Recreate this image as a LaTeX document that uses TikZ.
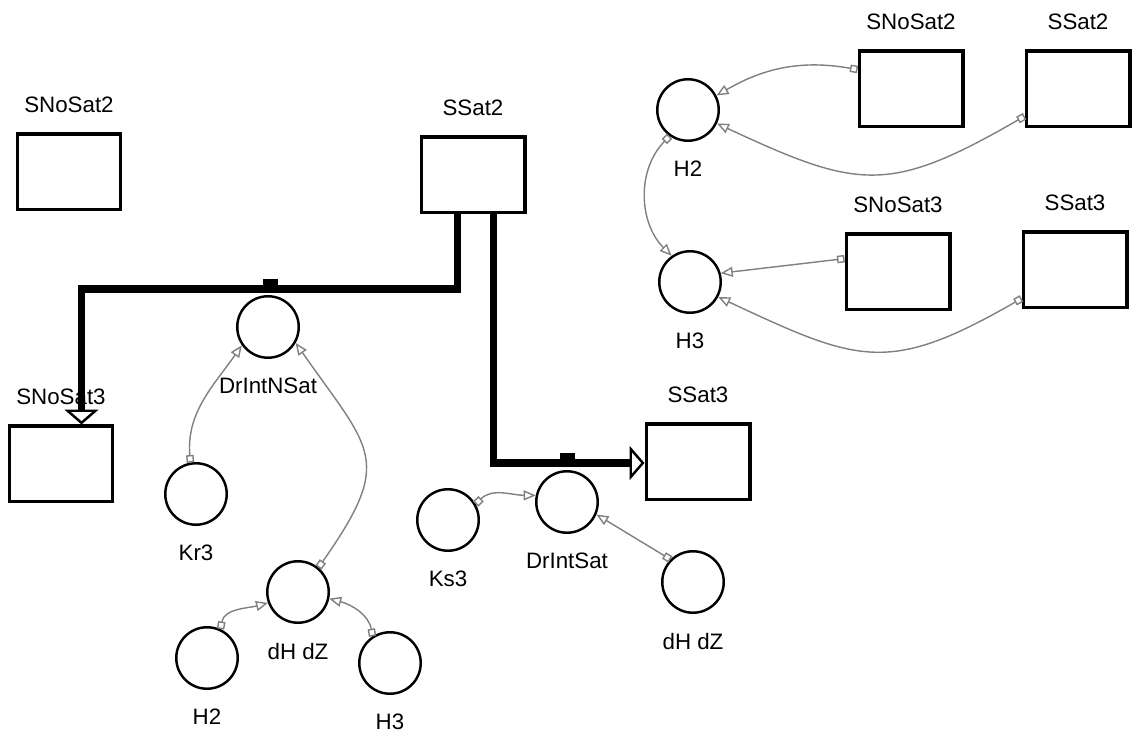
\documentclass[tikz,border=0pt]{standalone}
\usepackage{fontspec}
\setmainfont{Liberation Sans}
\usetikzlibrary{arrows.meta}

\begin{document}
\begin{tikzpicture}[
    x=0.02cm, y=0.02cm,
    label distance=0.38cm,
    every label/.style={font=\fontsize{12.7}{14}\selectfont, inner sep=0pt},
    stock/.style={rectangle, draw, line width=2pt, minimum width=2.07cm, minimum height=1.51cm},
    aux/.style={circle, draw, line width=1.4pt, minimum size=1.23cm, inner sep=0pt},
    valve/.style={rectangle, fill=black, minimum width=0.3cm, minimum height=0.2cm, inner sep=0pt, anchor=south},
    flow/.style={line width=4.5pt, arrows={-Triangle[open, length=0.3cm, width=0.68cm, line width=1.4pt]}},
    conn/.style={draw=gray, line width=0.8pt, arrows={Square[open, length=0.15cm, width=0.15cm]-Triangle[open, length=0.24cm, width=0.2cm]}}
]
\useasboundingbox (0,0) rectangle (1133,-736);

\node[stock, label={above:SNoSat2}] (snosat2L) at (69,-172)  {};
\node[stock, label={above:SSat2}]   (ssat2L)   at (473,-175) {};
\node[stock, label={above:SNoSat3}] (snosat3L) at (61,-464)  {};
\node[stock, label={above:SSat3}]   (ssat3L)   at (698,-462) {};
\node[valve] (valveN) at (270,-289) {};
\node[valve] (valveS) at (567,-463) {};
\node[aux, label={below:DrIntNSat}] (drn)  at (268,-327) {};
\node[aux, label={below:Kr3}]       (kr3)  at (196,-494) {};
\node[aux, label={below:dH dZ}]     (dhzL) at (298,-592) {};
\node[aux, label={below:H2}]        (h2L)  at (207,-658) {};
\node[aux, label={below:H3}]        (h3L)  at (390,-663) {};
\node[aux, label={below:DrIntSat}]  (dis)  at (567,-502) {};
\node[aux, label={below:Ks3}]       (ks3)  at (448,-520) {};
\node[aux, label={below:dH dZ}]     (dhzR) at (693,-582) {};

\node[aux, label={below:H2}]        (h2R)      at (688,-110)  {};
\node[aux, label={below:H3}]        (h3R)      at (690,-282)  {};
\node[stock, label={above:SNoSat2}] (snosat2R) at (911,-89)   {};
\node[stock, label={above:SSat2}]   (ssat2R)   at (1078,-89)  {};
\node[stock, label={above:SNoSat3}] (snosat3R) at (898,-272)  {};
\node[stock, label={above:SSat3}]   (ssat3R)   at (1075,-270) {};

\draw[flow] ([xshift=-0.31cm]ssat2L.south) |- (valveN.south) -| ([xshift=0.41cm]snosat3L.north);
\draw[flow] ([xshift=0.41cm]ssat2L.south) |- (valveS.south) -- (ssat3L.west |- valveS.south);

\draw[conn] (kr3.100) to[out=95, in=235] (drn.215);
\draw[conn] (dhzL.50) to[out=55, in=-55, looseness=1.5] (drn.-30);
\draw[conn] (h2L.65) to[out=80, in=195] (dhzL.200);
\draw[conn] (h3L.123) to[out=100, in=-15] (dhzL.-12);
\draw[conn] (ks3.30) to[out=45, in=180] (dis.168);
\draw[conn] (dhzR.135) -- (dis.-23);

\draw[conn] (snosat2R.160) to[out=170, in=30] (h2R.27);
\draw[conn] (ssat2R.207) to[out=210, in=-25, looseness=1.3] (h2R.-25);
\draw[conn] (h2R.235) to[out=225, in=135] (h3R.125);
\draw[conn] (snosat3R.166) -- (h3R.16);
\draw[conn] (ssat3R.208) to[out=210, in=-25, looseness=1.3] (h3R.-28);
\end{tikzpicture}
\end{document}
